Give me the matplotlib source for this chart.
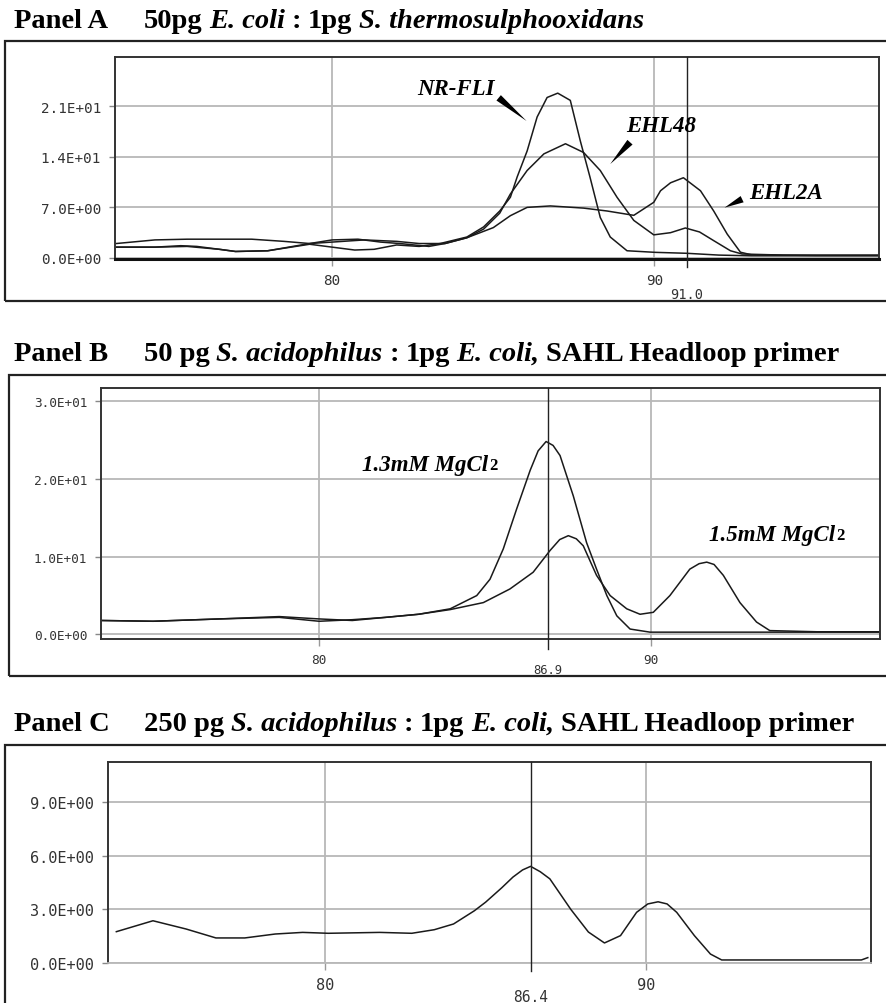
import matplotlib
matplotlib.use("Agg")
import matplotlib.pyplot as plt
from matplotlib.patches import Rectangle

# ---- Panel A: three primers ----
a_nrfli_x = [73.3, 74.5, 75.3, 75.8, 76.5, 77.0, 78.0, 79.3, 80.0, 80.7, 81.3, 82.0, 82.7, 83.35,
             84.18, 84.7, 85.2, 85.53, 85.74, 86.05, 86.36, 86.67, 87.0, 87.39, 87.7, 88.0, 88.32,
             88.63, 89.15, 90.03, 91.0, 92.0, 93.0, 95.0, 97.0]
a_nrfli_y = [1.5, 1.5, 1.7, 1.6, 1.2, 0.9, 1.0, 1.9, 1.5, 1.1, 1.2, 1.8, 1.6, 2.0,
             2.9, 4.3, 6.5, 8.4, 11.2, 14.8, 19.5, 22.2, 22.8, 21.8, 16.2, 11.2, 5.6,
             2.9, 1.0, 0.78, 0.65, 0.4, 0.3, 0.3, 0.3]
a_ehl48_x = [73.3, 74.5, 75.5, 76.5, 77.0, 78.0, 79.3, 80.0, 80.8, 81.5, 82.1, 83.0, 83.5, 84.18,
             84.7, 85.2, 85.53, 86.05, 86.57, 87.24, 87.8, 88.32, 88.84, 89.36, 89.98, 90.5,
             90.96, 91.4, 91.84, 92.36, 92.72, 94.0, 97.0]
a_ehl48_y = [1.5, 1.5, 1.6, 1.2, 0.9, 1.0, 2.0, 2.5, 2.6, 2.2, 2.0, 1.6, 2.0, 2.8,
             4.0, 6.2, 8.85, 12.1, 14.4, 15.8, 14.6, 12.1, 8.4, 5.2, 3.2, 3.5,
             4.15, 3.6, 2.4, 1.0, 0.55, 0.4, 0.4]
a_ehl2a_x = [73.3, 74.5, 75.5, 76.5, 77.5, 78.5, 79.3, 80.0, 81.0, 82.0, 82.7, 83.5, 84.18, 85.0,
             85.53, 86.05, 86.77, 87.8, 88.53, 89.36, 89.98, 90.19, 90.5, 90.9, 91.43, 91.84,
             92.26, 92.67, 93.0, 95.0, 97.0]
a_ehl2a_y = [2.0, 2.5, 2.6, 2.6, 2.6, 2.3, 2.0, 2.2, 2.5, 2.3, 2.0, 2.0, 2.8, 4.2,
             5.85, 7.0, 7.2, 6.9, 6.5, 5.9, 7.7, 9.3, 10.4, 11.1, 9.3, 6.5,
             3.3, 0.8, 0.45, 0.35, 0.35]

# ---- Panel B: two MgCl2 concentrations ----
b_13_x = [73.43, 75.0, 77.0, 78.8, 80.0, 81.0, 82.0, 83.0, 83.95, 84.75, 85.15, 85.55, 85.95,
          86.36, 86.6, 86.84, 87.05, 87.26, 87.66, 88.06, 88.36, 88.67, 88.97, 89.37, 89.97, 92.0, 96.9]
b_13_y = [1.8, 1.7, 2.0, 2.3, 2.0, 1.8, 2.2, 2.6, 3.3, 5.0, 7.1, 11.0, 16.1,
          21.1, 23.6, 24.8, 24.3, 23.0, 17.8, 11.8, 8.4, 5.0, 2.4, 0.7, 0.3, 0.3, 0.3]
b_15_x = [73.43, 75.0, 77.0, 78.8, 80.0, 81.0, 82.0, 83.0, 83.95, 84.95, 85.75, 86.45, 86.96,
          87.25, 87.51, 87.75, 87.96, 88.36, 88.77, 89.27, 89.67, 90.07, 90.57, 91.17, 91.45, 91.68,
          91.9, 92.18, 92.68, 93.18, 93.58, 95.0, 96.9]
b_15_y = [1.8, 1.7, 2.0, 2.2, 1.7, 1.9, 2.2, 2.6, 3.2, 4.1, 5.85, 8.0, 10.8,
          12.2, 12.7, 12.3, 11.4, 7.6, 5.0, 3.3, 2.6, 2.85, 5.0, 8.4, 9.1, 9.3,
          9.0, 7.6, 4.1, 1.6, 0.5, 0.35, 0.35]

# ---- Panel C ----
c_x = [73.5, 74.64, 75.67, 76.6, 77.5, 78.45, 79.3, 80.1, 81.7, 82.7, 83.4, 84.0, 84.65, 85.0,
       85.5, 85.85, 86.15, 86.4, 86.7, 87.0, 87.65, 88.2, 88.7, 89.2, 89.7, 90.05, 90.37, 90.65,
       90.95, 91.5, 92.0, 92.35, 96.7, 96.9]
c_y = [1.75, 2.36, 1.9, 1.4, 1.4, 1.62, 1.71, 1.66, 1.71, 1.66, 1.86, 2.18, 2.92, 3.4,
       4.2, 4.8, 5.2, 5.4, 5.1, 4.7, 3.0, 1.73, 1.12, 1.53, 2.83, 3.3, 3.42, 3.3,
       2.83, 1.53, 0.5, 0.17, 0.17, 0.3]

a_yticks = [0, 7, 14, 21]
a_ylabels = ["0.0E+00", "7.0E+00", "1.4E+01", "2.1E+01"]
b_yticks = [0, 10, 20, 30]
b_ylabels = ["0.0E+00", "1.0E+01", "2.0E+01", "3.0E+01"]
c_yticks = [0, 3, 6, 9]
c_ylabels = ["0.0E+00", "3.0E+00", "6.0E+00", "9.0E+00"]
xticks = [80, 90]
markers = [91.0, 86.9, 86.4]

# title pieces: (text, italic, gap before in points)
title_a = [("50pg", False, 0), ("E. coli", True, 4.8), (":", False, 4.8), ("1pg", False, 4.8),
           ("S. thermosulphooxidans", True, 4.8)]
title_b = [("50 pg", False, 0), ("S. acidophilus", True, 4.8), (":", False, 4.8), ("1pg", False, 4.8),
           ("E. coli,", True, 4.8), ("SAHL Headloop primer", False, 4.8)]
title_c = [("250 pg", False, 0), ("S. acidophilus", True, 4.8), (":", False, 4.8), ("1pg", False, 4.8),
           ("E. coli,", True, 4.8), ("SAHL Headloop primer", False, 4.8)]

W, H = 886, 1004
fig = plt.figure(figsize=(W / 100, H / 100), dpi=100)
SERIF = "Liberation Serif"
MONO = "DejaVu Sans Mono"
LINE = "#1a1a1a"
GRID = "#b8b8b8"
TSIZE = 20.5


def ax_px(left, top, right, bottom):
    return fig.add_axes([left / W, 1 - bottom / H, (right - left) / W, (bottom - top) / H])


def frame_px(left, top, right, bottom):
    fig.patches.append(Rectangle((left / W, 1 - bottom / H), (right - left) / W, (bottom - top) / H,
                                 transform=fig.transFigure, fill=False, ec="#222222", lw=1.6))


def title_row(label, y, chunks, size=TSIZE):
    fig.text(14 / W, 1 - y / H, label, family=SERIF, weight="bold", fontsize=size, va="bottom")
    prev = None
    for s, it, gap in chunks:
        style = "italic" if it else "normal"
        if prev is None:
            prev = fig.text(144 / W, 1 - y / H, s, family=SERIF, weight="bold", style=style,
                            fontsize=size, va="bottom")
        else:
            prev = fig.add_artist(plt.Annotation(s, xy=(1, 0), xycoords=prev, xytext=(gap, 0),
                                                 textcoords="offset points", family=SERIF,
                                                 weight="bold", style=style, fontsize=size,
                                                 va="bottom", ha="left"))


def style_axes(ax, xlim, ylim, yticks, ylabels, tsize, marker, mlabel_off, bottom_spine):
    ax.set_xlim(*xlim)
    ax.set_ylim(*ylim)
    ax.set_yticks(yticks)
    ax.set_yticklabels(ylabels, family=MONO, fontsize=tsize, color="#333333")
    ax.set_xticks(xticks)
    ax.set_xticklabels([str(v) for v in xticks], family=MONO, fontsize=tsize, color="#333333")
    ax.grid(True, color=GRID, lw=1.3)
    ax.set_axisbelow(True)
    ax.tick_params(axis="y", length=4, width=1, color="#888888", pad=6)
    ax.tick_params(axis="x", length=5, width=1, color="#999999", pad=5)
    for s in ax.spines.values():
        s.set_color("#333333")
        s.set_linewidth(1.4)
    ax.spines["bottom"].set_color(bottom_spine[0])
    ax.spines["bottom"].set_linewidth(bottom_spine[1])
    ax.axvline(marker, ymin=-0.04, ymax=1, color="#222222", lw=1.0, clip_on=False, zorder=3)
    ax.annotate(f"{marker:.1f}", xy=(marker, 0), xycoords=("data", "axes fraction"),
                xytext=(0, -mlabel_off), textcoords="offset pixels", ha="center", va="center",
                family=MONO, fontsize=tsize - 0.5, color="#333333")


# ---------------- Panel A ----------------
frame_px(5, 42, 892, 302)
title_row("Panel A", 34, title_a)
axA = ax_px(115, 58, 879, 260)
for xs, ys in [(a_nrfli_x, a_nrfli_y), (a_ehl48_x, a_ehl48_y), (a_ehl2a_x, a_ehl2a_y)]:
    axA.plot(xs, ys, color=LINE, lw=1.1)
style_axes(axA, (73.26, 96.97), (-0.14, 27.8), a_yticks, a_ylabels, 10.3, markers[0], 35,
           ("#111111", 2.2))

lab = dict(family=SERIF, weight="bold", style="italic", fontsize=16.5, ha="center", va="center")
wedge = dict(arrowstyle="wedge,tail_width=0.5,shrink_factor=0.5", color="black", lw=0)
axA.text(83.85, 23.4, "NR-FLI", **lab)
axA.annotate("", xy=(86.1, 18.7), xytext=(85.1, 22.4), arrowprops=wedge)
axA.text(90.2, 18.3, "EHL48", **lab)
axA.annotate("", xy=(88.57, 12.7), xytext=(89.3, 16.3), arrowprops=wedge)
axA.text(94.1, 9.1, "EHL2A", **lab)
axA.annotate("", xy=(92.1, 6.8), xytext=(92.8, 8.3), arrowprops=wedge)

# ---------------- Panel B ----------------
frame_px(9, 376, 892, 677)
title_row("Panel B", 367, title_b)
axB = ax_px(101, 389, 880, 640)
axB.plot(b_13_x, b_13_y, color=LINE, lw=1.1)
axB.plot(b_15_x, b_15_y, color=LINE, lw=1.1)
style_axes(axB, (73.43, 96.9), (-0.58, 31.68), b_yticks, b_ylabels, 9.2, markers[1], 30,
           ("#333333", 1.4))

mg = dict(family=SERIF, weight="bold", style="italic", fontsize=16.5, ha="left", va="baseline")
for xx, yy, s in [(81.3, 21.2, "1.3mM MgCl"), (91.75, 12.2, "1.5mM MgCl")]:
    t = axB.text(xx, yy, s, **mg)
    axB.annotate("2", xy=(1, 0), xycoords=t, xytext=(0.5, 1), textcoords="offset points",
                 family=SERIF, weight="bold", fontsize=12, ha="left", va="bottom")

# ---------------- Panel C ----------------
frame_px(5, 746, 892, 1010)
title_row("Panel C", 737, title_c)
axC = ax_px(108, 763, 871, 964)
axC.plot(c_x, c_y, color=LINE, lw=1.1)
style_axes(axC, (73.24, 97.0), (0, 11.23), c_yticks, c_ylabels, 11, markers[2], 34,
           (GRID, 1.3))

fig.savefig("out.png", dpi=100)
